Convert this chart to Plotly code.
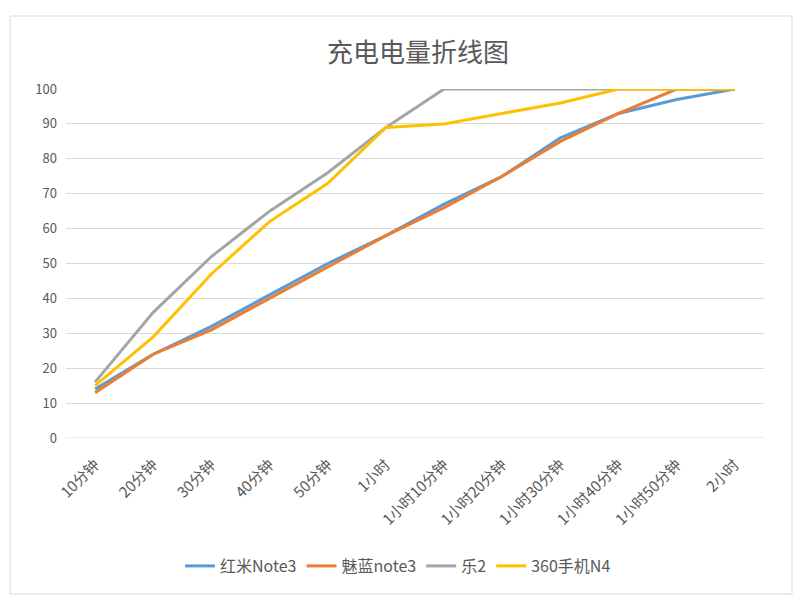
import plotly.graph_objects as go

categories = ["10分钟", "20分钟", "30分钟", "40分钟", "50分钟", "1小时",
              "1小时10分钟", "1小时20分钟", "1小时30分钟", "1小时40分钟", "1小时50分钟", "2小时"]
redmi = [14, 24, 32, 41, 50, 58, 67, 75, 86, 93, 97, 100]
meilan = [13, 24, 31, 40, 49, 58, 66, 75, 85, 93, 100, 100]
le2 = [16, 36, 52, 65, 76, 89, 100, 100, 100, 100, 100, 100]
n4 = [15, 29, 47, 62, 73, 89, 90, 93, 96, 100, 100, 100]
y_ticks = [0, 10, 20, 30, 40, 50, 60, 70, 80, 90, 100]

series = [("红米Note3", redmi, "#5B9BD5"), ("魅蓝note3", meilan, "#ED7D31"),
          ("乐2", le2, "#A5A5A5"), ("360手机N4", n4, "#FFC000")]

FONT = "Noto Sans CJK SC"
fig = go.Figure()
for name, vals, col in series:
    fig.add_trace(go.Scatter(x=categories, y=vals, name=name, mode="lines",
                             line=dict(color=col, width=3)))

L, R, T, B = 66, 36, 89, 171
W, H = 800 - L - R, 609 - T - B

def px(x):
    return (x - L) / W

def py(y):
    return (609 - B - y) / H

fig.update_layout(
    width=800, height=609,
    margin=dict(l=L, r=R, t=T, b=B),
    paper_bgcolor="white", plot_bgcolor="white",
    font=dict(family=FONT, color="#595959", size=12),
    title=dict(text="充电电量折线图", font=dict(size=26, color="#595959", family=FONT),
               x=418 / 800, xanchor="center", y=1 - 53 / 609, yanchor="middle"),
    xaxis=dict(type="category", tickangle=-45, showgrid=False, showline=False,
               ticks="", ticklabelstandoff=14,
               tickfont=dict(size=15, color="#595959"), range=[-0.5, 11.5]),
    yaxis=dict(range=[0, 100], tickvals=y_ticks, showgrid=True, gridcolor="#D9D9D9",
               gridwidth=1, zeroline=False, showline=False, ticks="", ticklabelstandoff=8,
               tickfont=dict(size=13, color="#595959")),
    legend=dict(orientation="h", x=px(398), xanchor="center", y=py(566), yanchor="middle",
                font=dict(size=16, color="#595959"), itemwidth=30),
    showlegend=True,
)
fig.add_shape(type="line", xref="paper", yref="y", x0=0, x1=1, y0=0, y1=0,
              line=dict(color="#D9D9D9", width=1))
fig.add_shape(type="rect", xref="paper", yref="paper",
              x0=px(10), x1=px(792), y0=py(594), y1=py(16),
              line=dict(color="#D9D9D9", width=1), fillcolor="rgba(0,0,0,0)", layer="below")

fig.write_html("out.html")
